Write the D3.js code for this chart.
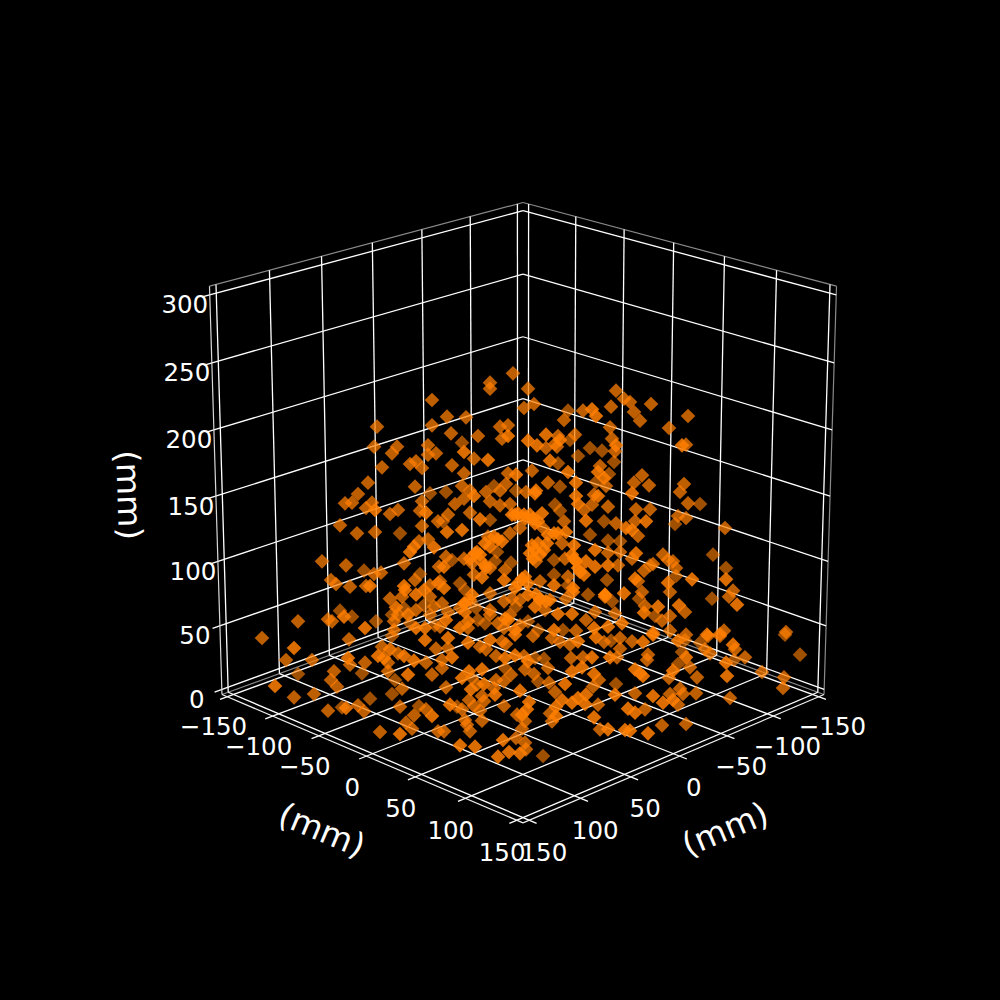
<!DOCTYPE html>
<html><head><meta charset="utf-8">
<script src="https://cdnjs.cloudflare.com/ajax/libs/d3/7.8.5/d3.min.js"></script>
<style>html,body{margin:0;padding:0;background:#000}svg{display:block}</style>
</head><body>
<svg id="c" width="1000" height="1000"></svg>
<script>
const xTicks=[-150,-100,-50,0,50,100,150];
const yTicks=[-150,-100,-50,0,50,100,150];
const zTicks=[0,50,100,150,200,250,300];
const axisUnit="(mm)";
const pointAcross=[
-45,-72.5,-45,-74,-62.5,-65,-47,-47,-43,-70,-56,-53,-50,-77,-53.5,-82,-46,
-4.5,-16,-16,3,47,51,1,6,44.5,-37.5,-28,23,30.5,35,37,21,-35.5,-11,-7,-22,44,-10,-7,3,12,26.5,18,45,-30,7.5,12,16.5,19,24,17.5,47,34,40,46.5,-29,-24,-17,14,28,18,46,-35,39,-29,-7,5,-3,23,38,43.5,41,13,27,37,19,-8,-30,-14,-11,-38,-26,-18,-3,2,7,6.5,42,-24,27,36,38,-29,
54,64.5,56,59,83,73.5,80,82,60,56,63.5,81,79,55,
-88.5,-85,-78,-73.5,-75,-66,-62,-50,-51,-48,-42,-91,-82.5,-73.5,-61,-50,-51.5,-47,-54,-56,-44,-100,-88,-59,-79,-74,-70.5,-51,-41.5,-95.5,-93,-86,-78,-76,-53.5,-59,-46,-42,-58.5,-53,-49,-66,-60,-46,-63,-59,-53,-49,-44,-91,-65,-62,-57,-89,-85,-46,-112,-97,-95,-73,-64,-56,-78.5,-53,-48.5,-43.5,-64,
-16,-11,-6,-33.5,16.5,28,35,43,-37,-26,-39.5,-21,-16,-3.5,1,4,10,19,31,32,41,21,47,52,-37.5,-30,6.5,-1,10.5,22,18,-17,-12,-6,13,20,34,43,49,-16,8,26,36.5,43,49,-12.5,4,9,16,-23.5,-38,-29,-26,-21,26,21.5,32,-13.5,-5.5,-35,-39,7,43,48,-18,-8.5,28,36.5,23,16,31,-20,-9,-24,0,-31,-41,42.5,51,-3.5,3,9,16,23,33,25.5,-39,-28.5,-16,3,41.5,9,14,22,-5,-1,-25,-29,45,-40,6.5,-9,-3,-16,-23,18,25,11.5,-37,-28.5,32,36.5,46.5,-38,-22,-16,-7,-27,3,-18.5,-12,-1,-9,-3.5,8,16,20.5,27,36,43,50,-31,-27,-41,
83,89,57,64,78,82,76.5,62,56.5,101.5,55,58,95.5,57,55,70.5,75.5,73,65.5,64,77,102,61,77,85,102,56.5,58,73,60,74,105.5,103.5,95,58.5,107.5,78.5,81.5,61.5,68,61,66.5,74,70,132,101,92.5,65.5,74,82,99,
-130,-86.5,-114,-65,-48.5,-70,-66,-62,-43,-118,-105,-87,-86,-78.5,-72,-69,-67,-59,-54,-48,-112,-94,-80,-67,-57,-45,-95.5,-123.5,-92.5,-63.5,-60,-65,-114,-104,-76,-82,-90,-88,-79,-97,-61,-51.5,-48,-45,-54,-58,-55,-71,-61,-42,
-37,-37,-35,-40,-40,-27,-21,-18,-16,-10,-8,-3.5,5.5,15,19,24,28,37,41,44.5,49,49,-13,-8.5,-3.5,1,3,6.5,11,24.5,30.5,35,44,47.5,-20,-26.5,-8.5,-5.5,1.5,13,25,30,36,6,-30,-25,38.5,-13,-9,8,13.5,-38,-22.5,-19,-14,-25.5,21.5,35.5,47,-13.5,-1,16.5,-20,-19,-26.5,46.5,32,28,20,25,31.5,-36,-32.5,-24,3.5,-9,38,17,-30,-21,-2.5,2.5,0,14,17,53,-28.5,-20,1.5,15,36,-27.5,0,-39,-26,39,43,51.5,-3,-9.5,1.5,-31,-23.5,-6.5,-1,2,-12,10.5,
55,60.5,65.5,78,81.5,93,99,131.5,105.5,106.5,89,63,62.5,80,82,94,91.5,111.5,102,106,139,78,84,75.5,56.5,59,60.5,73.5,87.5,102.5,120,131,130.5,56.5,65.5,74,79,80.5,87,104,70.5,75.5,78,56.5,61.5,70,82,63,54,
-5,-2,1.5,5.5,8,5,6.5,11,5.5,12.5,16,-14,-10,-18.5,-21,-18.5,-16,-25,-22.5,-2,1.5,25,27,29,9,7,12,25.5,-28.5,-26,-31,-6,-8.5,41.5
];
const pointHeight=[
315,295,296,280,280,275,281,274,275,264.5,267,269,264,253,250,244.5,245,
335,328,323.5,323.5,322,316,309,312,310,302.5,302,307,307,308,303,300,290,295,296,288,294.5,286,288,284.5,289,289,288,286,283,281,279,282,285,285,280,281,279,277,276.5,276,271,270,269.5,273,267.5,268.5,266,265.5,260,260,262,259,261,261,259.5,256.5,253,253,253.5,250,252,250.5,250.5,247,246,247,246,247,246,247,245,250.5,243,243,244,243,241,
313.5,312,306,299.5,303,294,281,281.5,258.5,253,251,252,246,245,
237.5,238,234,232.5,238,229.5,232.5,239,232,230.5,224,221,215,216,215,220.5,209,210.5,205,201,204.5,194,191,192.5,187,184.5,185.5,184.5,190,180,177,175,175.5,175.5,180,175.5,176,177.5,172.5,169,172.5,166,167.5,167.5,159.5,159,157.5,161,160,157,154,154,154,152.5,152.5,154,149,150.5,149,149,149,147.5,144,144,144,146,142.5,
239,236,237,237,236.5,237,236.5,235,229,230.5,224,225.5,225,229,229,229,230,232,232.5,224.5,224,224,222.5,219,216,217.5,222.5,219,219,216,215,212.5,210.5,215,214,207.5,214,209.5,209,205,207.5,206,202.5,200.5,201,201,200,199,195,200,197.5,196,196,195,196,196,194,194,193,195,190,194,191,191,189,187.5,189,190,182.5,184,184,182,180,184,181,177.5,179,180,170,174,177.5,179,176,176,169,171,174,172.5,170,169,167.5,166,165,166,166,165,169,162.5,164,162.5,160,164,160,157.5,159,154.5,154.5,157.5,156,156,150,156,155,150,150,154,150,149,149,147.5,147.5,146,144,142.5,142.5,142.5,142.5,142,144,145,147.5,144,144,145,
237.5,237,233,233,228,226.5,222,224,224,219,217.5,213,199,200,196,199,194,195,192,191,189,189,187,183,180.5,180.5,181,179,178,171,171,172,167.5,166,166,161.5,161,156,160.5,160,155.5,153,153,149.5,141,142,139,140.5,142,139,139.5,
136.5,135.5,129,138,135,130,128,125,128.5,120,120,121.5,116.5,118,123,121.5,118,123,119.5,118,109.5,111.5,110,111.5,109,109,105,100.5,100,105,98.5,94.5,92,94.5,91,86,84.5,84,81.5,82,85,85.5,83,78,78.5,73,68.5,66,64.5,66.5,
136.5,129,122,120,114,133,130,128,135,134,132,139,138,136.5,133.5,131.5,134,137,133.5,134.5,136.5,128.5,123,121.5,123.5,123,119,121.5,121,121.5,122,122,122,122,113,111.5,114,109,113,114,111.5,114.5,109.5,109.5,106.5,106.5,105,105,104,104,103,99.5,101.5,102,99,98,102,100,102,94,97,96,93,89,90,94,94,91.5,90,88,87,86.5,85,85.5,88.5,85.5,86.5,85,83,82,79,83,79,80,78,83.5,75,74.5,74,74,77,71.5,68.5,66.5,66.5,68,68,67.5,61.5,60,58,56,55,51,50,53,47.5,48,
134,133.5,139,134.5,135,138,138,139,131.5,128,133,124,120,126,122,125,128,122,118,120,124,117,114.5,112,113,110,108,106.5,107,108,111,107,99,95,93,94.5,98.5,94.5,95,91.5,88,90,86.5,80.5,83,71,72,65,67,
229,230,226,226,224,206,202.5,202.5,196,207.5,215,212.5,209,207.5,199,191,189,192.5,201,177.5,182.5,199,194,186,165,169,164,174,162.5,165,159,154,151,169
];
const pointDepthBand=[
0,0,0,0,0,0,0,0,0,0,0,0,0,0,0,0,-1,
0,0,0,0,0,0,0,0,0,0,0,-1,0,1,1,0,0,0,0,0,0,0,1,1,1,0,0,0,-1,1,0,0,1,-1,0,1,-1,-1,0,1,0,1,1,-1,-1,-1,0,0,0,0,0,1,1,1,-1,1,0,1,-1,-1,0,0,-1,0,-1,0,0,-1,0,1,1,0,1,1,0,1,0,
0,0,0,0,0,0,1,0,0,0,0,0,0,1,
0,0,0,1,0,0,0,0,0,1,0,0,0,0,-1,0,0,0,1,1,1,0,0,0,-1,0,0,-1,0,0,0,0,0,1,0,1,0,0,1,1,1,0,0,0,1,-1,0,-1,0,-1,-1,0,1,1,-1,0,0,0,0,-1,0,-1,1,1,1,-1,0,
0,0,0,0,-1,1,0,0,0,0,-1,1,-1,1,1,1,1,-1,0,1,-1,0,0,1,1,1,1,0,0,1,1,0,1,0,1,0,-1,-1,-1,1,1,1,1,0,0,-1,1,1,-1,1,0,0,1,0,1,0,1,-1,-1,-1,1,0,1,0,1,0,1,1,0,-1,1,1,1,0,1,-1,0,-1,1,1,1,0,1,-1,-1,1,1,-1,0,1,1,1,1,0,0,0,1,1,-1,0,1,0,-1,0,-1,1,1,0,0,1,0,0,0,1,-1,0,1,1,-1,-1,0,0,0,1,-1,1,-1,0,1,1,1,1,0,
0,0,-1,0,0,0,0,-1,1,0,0,1,0,-1,1,0,0,0,0,0,-1,0,-1,0,-1,1,1,1,0,1,0,0,0,0,-1,-1,1,1,0,0,1,1,-1,0,0,0,0,1,0,0,0,
0,0,0,1,-1,1,0,1,0,0,0,0,1,0,0,1,1,0,1,1,0,-1,0,-1,0,1,0,0,1,0,-1,0,-1,0,0,-1,0,-1,1,0,0,0,-1,0,1,0,0,0,0,1,
0,1,0,1,0,0,1,0,0,1,0,0,1,0,0,0,0,1,1,0,-1,0,0,0,1,1,0,1,-1,-1,0,0,1,1,0,1,1,-1,0,0,0,1,1,1,0,1,-1,0,0,0,-1,0,0,0,1,0,1,1,0,-1,1,1,0,0,0,0,1,1,1,1,1,1,1,-1,0,1,0,0,1,0,0,0,1,1,0,1,1,0,0,0,0,1,0,0,0,0,0,1,1,0,1,0,1,1,1,1,0,1,
-1,0,1,1,1,-1,0,0,-1,1,0,-1,0,0,-1,1,0,0,0,1,-1,-1,-1,0,1,1,0,1,0,0,1,0,0,0,0,1,0,0,0,0,0,1,1,0,1,0,0,0,1,
1,1,1,1,1,1,1,1,1,1,1,1,1,1,1,1,1,0,0,1,1,1,1,1,1,1,1,1,1,1,1,0,0,1
];
const scatterColor="#ff7f00";

const svg=d3.select("#c");
const limit={x:[-156,156],y:[-156,156],z:[-4,306.4]};
const boxSide=1.19, focus=10, elev=20*Math.PI/180, azim=45*Math.PI/180;
const viewScale=3650, cx=523, cy=494.5;
const sx=d3.scaleLinear().domain(limit.x).range([0,boxSide]);
const sy=d3.scaleLinear().domain(limit.y).range([0,boxSide]);
const sz=d3.scaleLinear().domain(limit.z).range([0,boxSide]);
const w=[Math.cos(elev)*Math.cos(azim),Math.cos(elev)*Math.sin(azim),Math.sin(elev)];
const un=Math.hypot(w[0],w[1]);
const u=[-w[1]/un,w[0]/un,0];
const v=[w[1]*u[2]-w[2]*u[1],w[2]*u[0]-w[0]*u[2],w[0]*u[1]-w[1]*u[0]];
const dot=(a,b)=>a[0]*b[0]+a[1]*b[1]+a[2]*b[2];
function project(x,y,z){
  const d=[sx(x)-boxSide/2,sy(y)-boxSide/2,sz(z)-boxSide/2];
  const depth=focus-dot(w,d);
  return [cx+viewScale*dot(u,d)/depth, cy-viewScale*dot(v,d)/depth];
}
const [x0,x1]=limit.x,[y0,y1]=limit.y,[z0,z1]=limit.z;
function seg(a,b,col,lw){
  const p=project(...a),q=project(...b);
  svg.append("line").attr("x1",p[0]).attr("y1",p[1]).attr("x2",q[0]).attr("y2",q[1])
    .attr("stroke",col).attr("stroke-width",lw);
}
const gridCol="#ffffff", edgeCol="#8a8a8a", tickOut=7, gridW=1.3;
// pane edges
seg([x1,y0,z1],[x0,y0,z1],edgeCol,1.2);
seg([x0,y0,z1],[x0,y1,z1],edgeCol,1.2);
seg([x0,y1,z0],[x0,y1,z1],edgeCol,1.2);
seg([x1,y0,z0],[x0,y0,z0],edgeCol,1.2);
seg([x0,y0,z0],[x0,y1,z0],edgeCol,1.2);
// grid
xTicks.forEach(t=>{
  seg([t,y0,z1],[t,y0,z0],gridCol,gridW);
  seg([t,y0,z0],[t,y1+tickOut,z0],gridCol,gridW);
});
yTicks.forEach(t=>{
  seg([x0,t,z1],[x0,t,z0],gridCol,gridW);
  seg([x0,t,z0],[x1+tickOut,t,z0],gridCol,gridW);
});
zTicks.forEach(t=>{
  seg([x0,y1,t],[x0,y0,t],gridCol,gridW);
  seg([x0,y0,t],[x1+tickOut,y0,t],gridCol,gridW);
});
// axis lines
seg([x1,y0,z0],[x1,y1,z0],"#f0f0f0",1.2);
seg([x0,y1,z0],[x1,y1,z0],"#f0f0f0",1.2);
seg([x1,y0,z0],[x1,y0,z1],"#d8d8d8",1.2);

// points
const acrossScale=d3.scaleLinear().domain([-150,150]).range([222,822]);
const heightScale=d3.scaleLinear().domain([0,300]).range([820,420]);
const shade=d3.scaleLinear().domain([-1,0,1]).range([0.62,0.74,0.86]);
const diamond=d3.symbol().type(d3.symbolSquare).size(108)();
const pts=d3.range(pointAcross.length).map(i=>({a:pointAcross[i],h:pointHeight[i],d:pointDepthBand[i]}));
pts.sort((p,q)=>d3.ascending(p.d,q.d));
svg.append("g").selectAll("path").data(pts).join("path")
  .attr("d",diamond)
  .attr("transform",p=>`translate(${acrossScale(p.a)},${heightScale(p.h)}) rotate(45)`)
  .attr("fill",scatterColor).attr("fill-opacity",p=>shade(p.d));

// tick labels
const fmt=t=>String(t).replace("-","\u2212");
const font="'DejaVu Sans'", tickSize=24.5;
function label(pos,txt,size,rot){
  const g=svg.append("text").attr("fill","#fff").attr("font-family",font).attr("font-size",size)
    .attr("text-anchor","middle").attr("dominant-baseline","central").text(txt);
  g.attr("transform",`translate(${pos[0]},${pos[1]})`+(rot?` rotate(${rot})`:""));
}
yTicks.forEach(t=>label(project(x1+14,t,z0-19.5),fmt(t),tickSize));
xTicks.forEach(t=>label(project(t,y1+14,z0-19.5),fmt(t),tickSize));
zTicks.forEach(t=>{const p=project(x1,y0,t);label([p[0]-25,p[1]+10],fmt(t),tickSize);});
label([322,830],axisUnit,33,22.7);
label([725,829],axisUnit,33,-22.7);
label([129,495],axisUnit,33,88);
</script>
</body></html>
